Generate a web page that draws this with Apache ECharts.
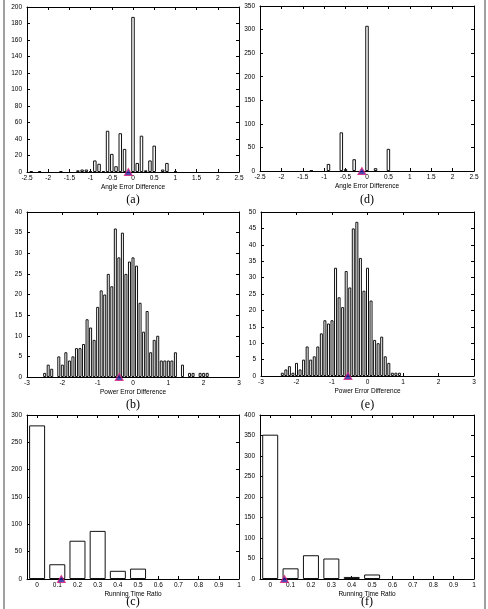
<!DOCTYPE html>
<html>
<head>
<meta charset="utf-8">
<script src="https://cdn.jsdelivr.net/npm/echarts@6/dist/echarts.min.js"></script>
<style>
html, body { margin: 0; padding: 0; background: #fff; }
#main { width: 488px; height: 609px; }
</style>
</head>
<body>
<div id="main"></div>
<script>
// (a) 角度误差差值
var binsA = [-2.4, -2.2, -1.7, -1.3, -1.2, -1.1, -1.0, -0.9, -0.8, -0.7, -0.6, -0.5, -0.4, -0.3, -0.2, 0, 0.1, 0.2, 0.3, 0.4, 0.5, 0.7, 0.8, 1.0];
var countsA = [1, 1, 1, 2, 3, 3, 1, 14, 10, 1, 50, 22, 7, 47, 28, 188, 11, 44, 2, 14, 32, 3, 11, 1];
// (d)
var binsD = [-1.3, -0.9, -0.6, -0.5, -0.3, 0, 0.2, 0.5];
var countsD = [1, 15, 82, 4, 25, 308, 6, 47];
// (b) 功率误差差值
var binsB = [-2.5, -2.4, -2.3, -2.1, -2.0, -1.9, -1.8, -1.7, -1.6, -1.5, -1.4, -1.3, -1.2, -1.1, -1.0, -0.9, -0.8, -0.7, -0.6, -0.5, -0.4, -0.3, -0.2, -0.1, 0, 0.1, 0.2, 0.3, 0.4, 0.5, 0.6, 0.7, 0.8, 0.9, 1.0, 1.1, 1.2, 1.4, 1.6, 1.7, 1.9, 2.0, 2.1];
var countsB = [1, 3, 2, 5, 3, 6, 4, 5, 7, 7, 8, 14, 12, 9, 17, 21, 20, 25, 22, 36, 29, 35, 25, 28, 29, 27, 18, 11, 16, 6, 9, 10, 4, 4, 4, 4, 6, 3, 1, 1, 1, 1, 1];
// (e)
var binsE = [-2.4, -2.3, -2.2, -2.1, -2.0, -1.9, -1.8, -1.7, -1.6, -1.5, -1.4, -1.3, -1.2, -1.1, -1.0, -0.9, -0.8, -0.7, -0.6, -0.5, -0.4, -0.3, -0.2, -0.1, 0, 0.1, 0.2, 0.3, 0.4, 0.5, 0.6, 0.7, 0.8, 0.9];
var countsE = [1, 2, 3, 1, 4, 2, 5, 9, 5, 6, 9, 13, 17, 16, 17, 33, 24, 21, 32, 27, 45, 47, 36, 26, 33, 23, 11, 10, 12, 6, 4, 1, 1, 1];
// (c) (f) 运行时间比
var binsC = [0, 0.1, 0.2, 0.3, 0.4, 0.5];
var countsC = [281, 27, 70, 88, 15, 19];
var binsF = [0, 0.1, 0.2, 0.3, 0.4, 0.5];
var countsF = [352, 26, 58, 50, 5, 11];
var ratioTicks = [0, 0.1, 0.2, 0.3, 0.4, 0.5, 0.6, 0.7, 0.8, 0.9, 1];
// 均值标记
var meanA = -0.11, meanD = -0.12, meanB = -0.39, meanE = -0.55, meanC = 0.12, meanF = 0.07;

var chart = echarts.init(document.getElementById('main'));

var grids = [], xAxes = [], yAxes = [], series = [], graphics = [];
var tickFont = {fontSize: 6.5, color: '#000', fontFamily: 'Liberation Sans'};

function addPanel(p) {
    var g = grids.length;
    grids.push({left: p.left, top: p.top, width: p.width, height: p.height});
    var line = {onZero: false, lineStyle: {color: '#000', width: 1}};
    var tick = {inside: true, length: 3, lineStyle: {color: '#000'}};
    var label = Object.assign({margin: 3, showMinLabel: true, showMaxLabel: true, hideOverlap: false}, tickFont);
    if (p.xTicks) {
        tick.customValues = p.xTicks;
        label.customValues = p.xTicks;
    }
    var xb = {
        type: 'value', gridIndex: g, position: 'bottom', min: p.xMin, max: p.xMax,
        splitLine: {show: false}, axisLine: line, axisTick: tick, axisLabel: label,
        name: p.xName, nameLocation: 'middle', nameGap: 12,
        nameTextStyle: {fontSize: 6.5, color: '#000', fontFamily: 'Liberation Sans'}
    };
    if (!p.xTicks) xb.interval = p.xStep;
    var xt = {
        type: 'value', gridIndex: g, position: 'top', min: p.xMin, max: p.xMax,
        splitLine: {show: false}, axisLine: line, axisTick: tick, axisLabel: {show: false}
    };
    if (!p.xTicks) xt.interval = p.xStep;
    xAxes.push(xb, xt);
    yAxes.push({
        type: 'value', gridIndex: g, position: 'left', min: 0, max: p.yMax, interval: p.yStep,
        splitLine: {show: false}, axisLine: line, axisTick: {inside: true, length: 3, lineStyle: {color: '#000'}},
        axisLabel: Object.assign({margin: 5, showMinLabel: true, showMaxLabel: true}, tickFont)
    }, {
        type: 'value', gridIndex: g, position: 'right', min: 0, max: p.yMax, interval: p.yStep,
        splitLine: {show: false}, axisLine: line, axisTick: {inside: true, length: 3, lineStyle: {color: '#000'}},
        axisLabel: {show: false}
    });
    series.push({
        type: 'bar', xAxisIndex: 2 * g, yAxisIndex: 2 * g,
        data: p.bins.map(function (x, i) { return [x, p.counts[i]]; }),
        barWidth: p.barWidth,
        itemStyle: {color: '#fff', borderColor: '#111', borderWidth: 1}
    });
    series.push({
        type: 'scatter', xAxisIndex: 2 * g, yAxisIndex: 2 * g, clip: false, z: 10,
        data: [[p.mean, 0]], symbol: 'triangle', symbolSize: [8, 7],
        itemStyle: {color: '#1e1e9e', borderColor: '#e8207a', borderWidth: 1}
    });
    graphics.push({
        type: 'text', x: p.left + p.width / 2, y: p.letterY,
        style: {text: p.letter, textAlign: 'center', textVerticalAlign: 'middle', font: '12px "Liberation Serif"', fill: '#000'}
    });
}

addPanel({left: 27, top: 7, width: 212, height: 165, xMin: -2.5, xMax: 2.5, xStep: 0.5, yMax: 200, yStep: 20,
    xName: 'Angle Error Difference', bins: binsA, counts: countsA, barWidth: 3.5, mean: meanA, letter: '(a)', letterY: 200});
addPanel({left: 260, top: 6, width: 214, height: 165, xMin: -2.5, xMax: 2.5, xStep: 0.5, yMax: 350, yStep: 50,
    xName: 'Angle Error Difference', bins: binsD, counts: countsD, barWidth: 3.5, mean: meanD, letter: '(d)', letterY: 200});
addPanel({left: 27, top: 212, width: 212, height: 165, xMin: -3, xMax: 3, xStep: 1, yMax: 40, yStep: 5,
    xName: 'Power Error Difference', bins: binsB, counts: countsB, barWidth: 3, mean: meanB, letter: '(b)', letterY: 405});
addPanel({left: 261, top: 212, width: 213, height: 164, xMin: -3, xMax: 3, xStep: 1, yMax: 50, yStep: 5,
    xName: 'Power Error Difference', bins: binsE, counts: countsE, barWidth: 3, mean: meanE, letter: '(e)', letterY: 405});
addPanel({left: 27, top: 415, width: 212, height: 164, xMin: -0.05, xMax: 1, xTicks: ratioTicks, yMax: 300, yStep: 50,
    xName: 'Running Time Ratio', bins: binsC, counts: countsC, barWidth: 16, mean: meanC, letter: '(c)', letterY: 602});
addPanel({left: 260, top: 415, width: 214, height: 164, xMin: -0.05, xMax: 1, xTicks: ratioTicks, yMax: 400, yStep: 50,
    xName: 'Running Time Ratio', bins: binsF, counts: countsF, barWidth: 16, mean: meanF, letter: '(f)', letterY: 602});

// 外框
graphics.push({type: 'line', shape: {x1: 4, y1: 0, x2: 4, y2: 609}, style: {stroke: '#a0a0a0', lineWidth: 2}});
graphics.push({type: 'line', shape: {x1: 485, y1: 0, x2: 485, y2: 609}, style: {stroke: '#a0a0a0', lineWidth: 2}});

var option = {
    animation: false,
    backgroundColor: '#fff',
    grid: grids,
    xAxis: xAxes,
    yAxis: yAxes,
    series: series,
    graphic: graphics
};
chart.setOption(option);
</script>
</body>
</html>
